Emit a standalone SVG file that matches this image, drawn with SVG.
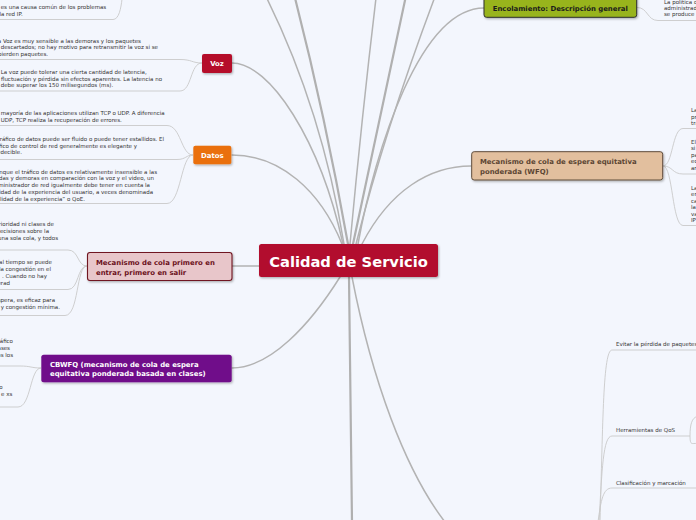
<svg xmlns="http://www.w3.org/2000/svg" width="696" height="520" viewBox="0 0 696 520">
<defs>
<filter id="sh" x="-10%" y="-30%" width="130%" height="180%">
<feDropShadow dx="1" dy="1.2" stdDeviation="0.8" flood-color="#000" flood-opacity="0.3"/>
</filter>
<style>
.bg{fill:#f3f6fd}
.leaf{font-family:"DejaVu Sans",Verdana,sans-serif;font-size:5.5px;fill:#333}
.nt{font-family:"DejaVu Sans",Verdana,sans-serif;font-size:6.9px;font-weight:bold}
.main{fill:none;stroke:#b3b3b3;stroke-width:1.5;stroke-linecap:round}
.thick{fill:none;stroke:#b0b0b0;stroke-width:2.2;stroke-linecap:round}
.lc{fill:none;stroke:#c9c9c9;stroke-width:0.9}
.e{text-anchor:end}
</style>
</defs>
<rect class="bg" x="0" y="0" width="696" height="520"/>

<g id="connectors">
  <path class="main" d="M344,244 Q322,110 266.7,-2"/>
  <path class="thick" d="M348,244 Q325,115 295,-2"/>
  <path class="main" d="M343,244 C320,140 270,63 232,63"/>
  <path class="main" d="M342,244 C320,190 280,155 232,155"/>
  <path class="main" d="M350,244 Q362,115 376,-2"/>
  <path class="thick" d="M353,244 L405.5,-2"/>
  <path class="main" d="M356,244 Q385,130 434.5,-2"/>
  <path class="main" d="M358,244 C375,150 420,8 484,8"/>
  <path class="main" d="M362,244 C390,190 430,166 471,166"/>
  <path class="main" d="M232,266 L259,266"/>
  <path class="main" d="M340,277 C310,325 270,368 232,368"/>
  <path class="thick" d="M349,277 L352,522"/>
  <path class="main" d="M352,277 C372,380 405,470 445,522"/>
  <path class="lc" d="M0,19.5 L113,19.5 C119,19.5 121,8 122,-1"/>
  <path class="lc" d="M0,59.5 L180,59.5 C192,59.5 192,63 202,63"/>
  <path class="lc" d="M0,91 L180,91 C192,91 190,63 202,63"/>
  <path class="lc" d="M0,125.5 L167,125.5 C181,125.5 181,155 193,155"/>
  <path class="lc" d="M0,159.5 L177,159.5 C186,159.5 186,155 193,155"/>
  <path class="lc" d="M0,203.5 L167,203.5 C181,203.5 181,155 193,155"/>
  <path class="lc" d="M0,250 L68,250 C79,250 77,266 87,266"/>
  <path class="lc" d="M0,289.5 L68,289.5 C79,289.5 77,266 87,266"/>
  <path class="lc" d="M0,315.5 L65,315.5 C79,315.5 76,266 87,266"/>
  <path class="lc" d="M0,366 L20,366 C31,366 31,368 41,368"/>
  <path class="lc" d="M0,407 L18,407 C31,407 30,368 41,368"/>
  <path class="lc" d="M637,7.5 C648,7.5 647,20.5 658,20.5 L697,20.5"/>
  <path class="lc" d="M663,166 C673,166 672,128.5 683,128.5 L697,128.5"/>
  <path class="lc" d="M663,166 C673,166 672,174 683,174 L697,174"/>
  <path class="lc" d="M663,166 C673,166 672,225.5 683,225.5 L697,225.5"/>
  <path class="lc" d="M600,522 C603,420 603,350 612,350 L697,350"/>
  <path class="lc" d="M599,522 C602,470 603,436 612,436 L690,436"/>
  <path class="lc" d="M598,522 C601,500 603,488 612,488 L697,488"/>
  <path class="lc" d="M690,436 C690,424 692,418 697,416.5"/>
  <path class="lc" d="M690,436 C690,446 692,443 697,443.5"/>
</g>

<g id="node-center">
  <rect x="259" y="244" width="179" height="33" rx="2.5" fill="#b20b2d" filter="url(#sh)"/>
  <text x="348.5" y="266.5" text-anchor="middle" font-family="'DejaVu Sans',Verdana,sans-serif" font-size="14.7" font-weight="bold" fill="#fff">Calidad de Servicio</text>
</g>

<g id="node-voz">
  <rect x="202" y="54" width="30" height="19" rx="2" fill="#b50c2c" filter="url(#sh)"/>
  <text class="nt" x="217" y="66.3" text-anchor="middle" fill="#fff">Voz</text>
</g>
<g id="node-datos">
  <rect x="193.3" y="145.7" width="38" height="18.6" rx="2" fill="#ea7010" filter="url(#sh)"/>
  <text class="nt" x="212.3" y="157.8" text-anchor="middle" fill="#fff">Datos</text>
</g>
<g id="node-fifo">
  <rect x="87.5" y="252.5" width="144.5" height="28" rx="2.5" fill="#e8c6ca" stroke="#701422" stroke-width="1.1" filter="url(#sh)"/>
  <text class="nt" fill="#6b1020"><tspan x="96" y="265">Mecanismo de cola primero en</tspan><tspan x="96" y="274.5">entrar, primero en salir</tspan></text>
</g>
<g id="node-cbwfq">
  <rect x="41.3" y="354.7" width="190.4" height="27.6" rx="2.5" fill="#700b8a" filter="url(#sh)"/>
  <text class="nt" fill="#fff"><tspan x="50" y="366.5">CBWFQ (mecanismo de cola de espera</tspan><tspan x="50" y="375.8">equitativa ponderada basada en clases)</tspan></text>
</g>
<g id="node-encolamiento">
  <rect x="484" y="-4" width="152.7" height="21.3" rx="2.5" fill="#98b41c" stroke="#2e2e2e" stroke-width="1" filter="url(#sh)"/>
  <text class="nt" x="560.3" y="10.8" text-anchor="middle" fill="#1b1b1b">Encolamiento: Descripción general</text>
</g>
<g id="node-wfq">
  <rect x="471.7" y="151.7" width="191" height="28.3" rx="2.5" fill="#e2bf9e" stroke="#5f4c3a" stroke-width="1" filter="url(#sh)"/>
  <text class="nt" fill="#5b4533"><tspan x="480" y="164.3">Mecanismo de cola de espera equitativa</tspan><tspan x="480" y="173.6">ponderada (WFQ)</tspan></text>
</g>

<g id="leaf-top">
  <text class="leaf" x="0.7" y="9">es una causa común de los problemas</text>
  <text class="leaf e" x="22.7" y="15.5">la red IP.</text>
</g>
<g id="leaf-voz-1">
  <text class="leaf e" x="141" y="42.5">La Voz es muy sensible a las demoras y los paquetes</text>
  <text class="leaf" x="0.7" y="49">descartados; no hay motivo para retransmitir la voz si se</text>
  <text class="leaf e" x="48" y="55.5">pierden paquetes.</text>
</g>
<g id="leaf-voz-2">
  <text class="leaf" x="0.7" y="74">La voz puede tolerar una cierta cantidad de latencia,</text>
  <text class="leaf e" x="162" y="80.5">fluctuación y pérdida sin efectos aparentes. La latencia no</text>
  <text class="leaf" x="0.7" y="87">debe superar los 150 milisegundos (ms).</text>
</g>
<g id="leaf-datos-1">
  <text class="leaf" x="0.7" y="115">mayoría de las aplicaciones utilizan TCP o UDP. A diferencia</text>
  <text class="leaf" x="0.7" y="122">UDP, TCP realiza la recuperación de errores.</text>
</g>
<g id="leaf-datos-2">
  <text class="leaf e" x="164" y="141">tráfico de datos puede ser fluido o puede tener estallidos. El</text>
  <text class="leaf e" x="137" y="147.5">tráfico de control de red generalmente es elegante y</text>
  <text class="leaf e" x="22" y="154">predecible.</text>
</g>
<g id="leaf-datos-3">
  <text class="leaf e" x="157" y="173.5">Aunque el tráfico de datos es relativamente insensible a las</text>
  <text class="leaf e" x="154" y="180">caídas y demoras en comparación con la voz y el video, un</text>
  <text class="leaf e" x="150" y="187">administrador de red igualmente debe tener en cuenta la</text>
  <text class="leaf e" x="153" y="193.5">calidad de la experiencia del usuario, a veces denominada</text>
  <text class="leaf e" x="85" y="200.5">“calidad de la experiencia” o QoE.</text>
</g>
<g id="leaf-fifo-1">
  <text class="leaf e" x="54" y="226">prioridad ni clases de</text>
  <text class="leaf e" x="49" y="232.5">decisiones sobre la</text>
  <text class="leaf e" x="58" y="239.5">una sola cola, y todos</text>
</g>
<g id="leaf-fifo-2">
  <text class="leaf e" x="52" y="263.5">al tiempo se puede</text>
  <text class="leaf e" x="51" y="271">la congestión en el</text>
  <text class="leaf e" x="47" y="277.5">. Cuando no hay</text>
  <text class="leaf e" x="10" y="284.5">erad</text>
</g>
<g id="leaf-fifo-3">
  <text class="leaf e" x="55" y="301.5">espera, es eficaz para</text>
  <text class="leaf" x="0.7" y="308.5">y congestión mínima.</text>
</g>
<g id="leaf-cbwfq-1">
  <text class="leaf e" x="13" y="343">tráfico</text>
  <text class="leaf e" x="10" y="350">clases</text>
  <text class="leaf e" x="13" y="357">todos los</text>
</g>
<g id="leaf-cbwfq-2">
  <text class="leaf e" x="2.5" y="389">o</text>
  <text class="leaf e" x="12.3" y="395.5">e xs</text>
</g>
<g id="leaf-encolamiento">
  <text class="leaf" x="664" y="3.5">La política de</text>
  <text class="leaf" x="664" y="9.5">administrador</text>
  <text class="leaf" x="664" y="15.8">se produce</text>
</g>
<g id="leaf-wfq-1">
  <text class="leaf" x="691" y="112">La</text>
  <text class="leaf" x="691" y="118.5">pr</text>
  <text class="leaf" x="691" y="125">tra</text>
</g>
<g id="leaf-wfq-2">
  <text class="leaf" x="691" y="143.5">El</text>
  <text class="leaf" x="691" y="150">si</text>
  <text class="leaf" x="691" y="156.5">pa</text>
  <text class="leaf" x="691" y="163">ec</text>
  <text class="leaf" x="691" y="169.5">ar</text>
</g>
<g id="leaf-wfq-3">
  <text class="leaf" x="691" y="189.5">La</text>
  <text class="leaf" x="691" y="196">er</text>
  <text class="leaf" x="691" y="202.5">ca</text>
  <text class="leaf" x="691" y="209">la</text>
  <text class="leaf" x="691" y="215.5">va</text>
  <text class="leaf" x="691" y="222">IP</text>
</g>
<g id="leaf-evitar">
  <text class="leaf" x="616" y="345.5">Evitar la pérdida de paquetes</text>
</g>
<g id="leaf-herramientas">
  <text class="leaf" x="616" y="431.5">Herramientas de QoS</text>
</g>
<g id="leaf-clasificacion">
  <text class="leaf" x="616" y="484.5">Clasificación y marcación</text>
</g>
</svg>
